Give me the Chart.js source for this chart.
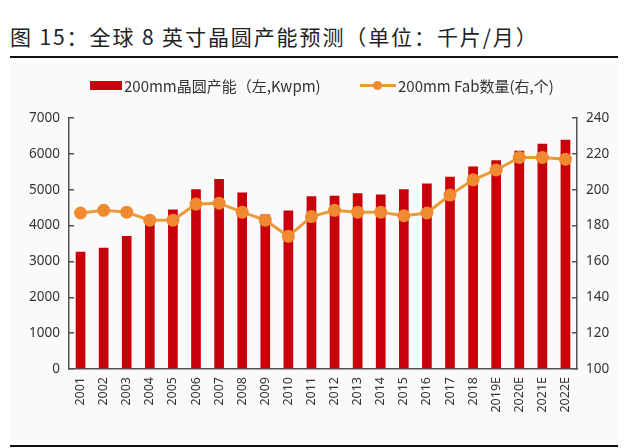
<!DOCTYPE html>
<html>
<head>
<meta charset="utf-8">
<script src="https://cdn.jsdelivr.net/npm/chart.js@4.4.1/dist/chart.umd.min.js"></script>
<style>
  body { margin: 0; width: 640px; height: 448px; background: #fff; position: relative; overflow: hidden;
         font-family: "Noto Sans CJK SC", "Noto Sans", sans-serif; }
  .title { position: absolute; left: 10px; top: 21px; font-size: 21px; color: #222; letter-spacing: 1.9px; }
  .rule { position: absolute; left: 10px; width: 608px; height: 2px; background: #111; }
  .box { position: absolute; left: 10px; top: 62px; width: 608px; height: 378px; background: #fafafa; }
  .legend { position: absolute; top: 73px; font-size: 15px; color: #333; white-space: nowrap; }
  .legend span { display: inline-block; vertical-align: middle; }
</style>
</head>
<body>
<div class="title">图 15：全球 8 英寸晶圆产能预测（单位：千片/月）</div>
<div class="rule" style="top:56px"></div>
<div class="box"><canvas id="c"></canvas></div>
<div class="legend" style="left:90px">
  <span style="width:32px;height:9px;background:#c8000c"></span><span style="margin-left:2px">200mm晶圆产能（左,Kwpm)</span>
</div>
<div class="legend" style="left:360px">
  <span style="position:relative;width:36px;height:9px">
    <span style="position:absolute;left:0;top:3px;width:36px;height:3px;background:#eb9a3a"></span>
    <span style="position:absolute;left:13px;top:0;width:9px;height:9px;border-radius:50%;background:#f08a30"></span>
  </span><span style="margin-left:2px">200mm Fab数量(右,个)</span>
</div>
<div class="rule" style="top:445px"></div>
<script>
// data
const years = ['2001', '2002', '2003', '2004', '2005', '2006', '2007', '2008', '2009', '2010', '2011',
               '2012', '2013', '2014', '2015', '2016', '2017', '2018', '2019E', '2020E', '2021E', '2022E'];
const capacity = [3270, 3380, 3710, 4100, 4450, 5010, 5300, 4920, 4310, 4420, 4820,
                  4830, 4900, 4870, 5010, 5170, 5360, 5650, 5820, 6090, 6280, 6390];
const fabCount = [187, 188.5, 187.5, 183, 183, 192, 192.5, 187.5, 183, 174, 185,
                  188.5, 187.5, 187.5, 185.5, 187, 197, 205.5, 211, 218, 218, 217];

const tickFont = { family: '"Noto Sans", "DejaVu Sans", sans-serif', size: 13.5 };

const canvas = document.getElementById('c');
canvas.width = 608;
canvas.height = 378;
canvas.style.width = '608px';
canvas.style.height = '378px';

new Chart(canvas, {
    data: {
        labels: years,
        datasets: [
            {
                type: 'line',
                label: '200mm Fab数量(右,个)',
                data: fabCount,
                yAxisID: 'y1',
                borderColor: '#eb9a3a',
                borderWidth: 3,
                pointRadius: 5,
                pointBackgroundColor: '#f08a30',
                pointBorderColor: '#f08a30',
                tension: 0,
                order: 0
            },
            {
                type: 'bar',
                label: '200mm晶圆产能（左,Kwpm)',
                data: capacity,
                yAxisID: 'y',
                backgroundColor: '#c8000c',
                barPercentage: 0.42,
                categoryPercentage: 1,
                order: 1
            }
        ]
    },
    options: {
        responsive: false,
        animation: false,
        layout: { padding: { top: 56, left: 0, right: 0, bottom: 0 } },
        plugins: { legend: { display: false }, tooltip: { enabled: false } },
        scales: {
            x: {
                grid: { display: false, drawTicks: false },
                border: { color: '#555', width: 1.5 },
                ticks: { color: '#333', font: { family: tickFont.family, size: 12.5 }, minRotation: 90, maxRotation: 90, autoSkip: false, padding: 8 },
                afterFit: s => { s.height = 71; }
            },
            y: {
                position: 'left',
                min: 0, max: 7000,
                ticks: { stepSize: 1000, color: '#333', font: tickFont, padding: 14, callback: v => String(v) },
                grid: { display: true, drawOnChartArea: false, tickLength: -5, color: '#555', lineWidth: 1.5 },
                border: { color: '#555', width: 1.5 },
                afterFit: s => { s.width = 59; }
            },
            y1: {
                position: 'right',
                min: 100, max: 240,
                ticks: { stepSize: 20, color: '#333', font: tickFont, padding: 14, callback: v => String(v) },
                grid: { display: true, drawOnChartArea: false, tickLength: -5, color: '#555', lineWidth: 1.5 },
                border: { color: '#555', width: 1.5 },
                afterFit: s => { s.width = 41; }
            }
        }
    }
});
</script>
</body>
</html>
